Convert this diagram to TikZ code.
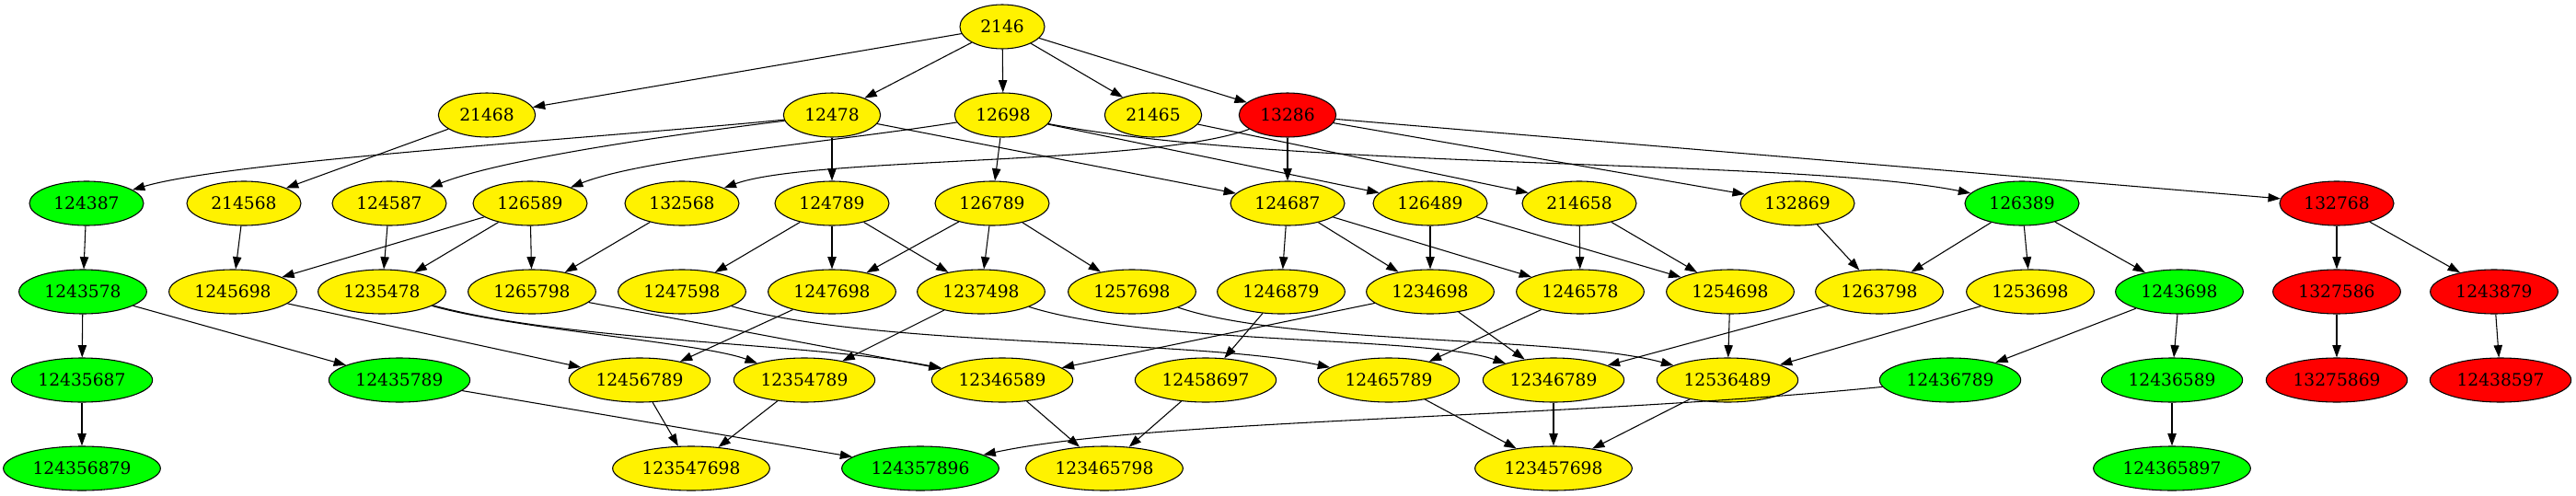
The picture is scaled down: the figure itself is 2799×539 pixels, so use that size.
\documentclass[tikz,border=0pt]{standalone}
\usepackage{fontspec}
\setmainfont{DejaVu Serif}
\usetikzlibrary{shapes.geometric,arrows.meta}
\begin{document}
\begin{tikzpicture}[x=0.75pt,y=-0.75pt,
  nd/.style={ellipse,draw=black,line width=0.8pt,minimum height=36pt,inner sep=0pt,font=\fontsize{14pt}{16pt}\selectfont},
  Y/.style={nd,fill=yellow},
  G/.style={nd,fill={rgb,255:red,0;green,255;blue,0}},
  R/.style={nd,fill=red},
  w4/.style={minimum width=69pt},
  w5/.style={minimum width=79pt},
  w6/.style={minimum width=93pt},
  w7/.style={minimum width=104pt},
  w8/.style={minimum width=115pt},
  w9/.style={minimum width=128pt},
  e/.style={-{Triangle[length=10pt,width=7pt]},line width=0.8pt}]
\useasboundingbox (0,0) rectangle (2799,539);
% row 1
\node[Y,w4] (n2146) at (1089,29) {2146};
% row 2
\node[Y,w5] (n21468) at (529,125) {21468};
\node[Y,w5] (n12478) at (904,125) {12478};
\node[Y,w5] (n12698) at (1090,125) {12698};
\node[Y,w5] (n21465) at (1253,125) {21465};
\node[R,w5] (n13286) at (1399,125) {13286};
% row 3
\node[G,w6] (n124387) at (94,221) {124387};
\node[Y,w6] (n214568) at (265,221) {214568};
\node[Y,w6] (n124587) at (423,221) {124587};
\node[Y,w6] (n126589) at (576,221) {126589};
\node[Y,w6] (n132568) at (741,221) {132568};
\node[Y,w6] (n124789) at (904,221) {124789};
\node[Y,w6] (n126789) at (1078,221) {126789};
\node[Y,w6] (n124687) at (1399,221) {124687};
\node[Y,w6] (n126489) at (1554,221) {126489};
\node[Y,w6] (n214658) at (1716,221) {214658};
\node[Y,w6] (n132869) at (1953,221) {132869};
\node[G,w6] (n126389) at (2197,221) {126389};
\node[R,w6] (n132768) at (2539,221) {132768};
% row 4
\node[G,w7] (n1243578) at (90,317) {1243578};
\node[Y,w7] (n1245698) at (253,317) {1245698};
\node[Y,w7] (n1235478) at (415,317) {1235478};
\node[Y,w7] (n1265798) at (578,317) {1265798};
\node[Y,w7] (n1247598) at (741,317) {1247598};
\node[Y,w7] (n1247698) at (904,317) {1247698};
\node[Y,w7] (n1237498) at (1066,317) {1237498};
\node[Y,w7] (n1257698) at (1230,317) {1257698};
\node[Y,w7] (n1246879) at (1392,317) {1246879};
\node[Y,w7] (n1234698) at (1554,317) {1234698};
\node[Y,w7] (n1246578) at (1717,317) {1246578};
\node[Y,w7] (n1254698) at (1880,317) {1254698};
\node[Y,w7] (n1263798) at (2042,317) {1263798};
\node[Y,w7] (n1253698) at (2206,317) {1253698};
\node[G,w7] (n1243698) at (2368,317) {1243698};
\node[R,w7] (n1327586) at (2539,317) {1327586};
\node[R,w7] (n1243879) at (2710,317) {1243879};
% row 5
\node[G,w8] (n12435687) at (89,413) {12435687};
\node[G,w8] (n12435789) at (434,413) {12435789};
\node[Y,w8] (n12456789) at (695,413) {12456789};
\node[Y,w8] (n12354789) at (874,413) {12354789};
\node[Y,w8] (n12346589) at (1089,413) {12346589};
\node[Y,w8] (n12458697) at (1310,413) {12458697};
\node[Y,w8] (n12465789) at (1509,413) {12465789};
\node[Y,w8] (n12346789) at (1688,413) {12346789};
\node[Y,w8] (n12536489) at (1877,413) {12536489};
\node[G,w8] (n12436789) at (2119,413) {12436789};
\node[G,w8] (n12436589) at (2360,413) {12436589};
\node[R,w8] (n13275869) at (2539,413) {13275869};
\node[R,w8] (n12438597) at (2717,413) {12438597};
% row 6
\node[G,w9] (n124356879) at (89,509) {124356879};
\node[Y,w9] (n123547698) at (751,509) {123547698};
\node[G,w9] (n124357896) at (1000,509) {124357896};
\node[Y,w9] (n123465798) at (1200,509) {123465798};
\node[Y,w9] (n123457698) at (1688,509) {123457698};
\node[G,w9] (n124365897) at (2360,509) {124365897};
% edges row1-2
\draw[e] (n2146) -- (n21468);
\draw[e] (n2146) -- (n12478);
\draw[e] (n2146) -- (n12698);
\draw[e] (n2146) -- (n21465);
\draw[e] (n2146) -- (n13286);
% edges row2-3
\draw[e] (n21468) -- (n214568);
\draw[e] (n12478) .. controls (650,150) and (250,175) .. (n124387);
\draw[e] (n12478) .. controls (700,150) and (540,175) .. (n124587);
\draw[e] (n12478) -- (n124789);
\draw[e] (n12478) -- (n124687);
\draw[e] (n12698) .. controls (900,155) and (700,172) .. (n126589);
\draw[e] (n12698) -- (n126789);
\draw[e] (n12698) -- (n126489);
\draw[e] (n12698) .. controls (1400,185) and (1950,172) .. (n126389);
\draw[e] (n21465) -- (n214658);
\draw[e] (n13286) .. controls (1250,180) and (880,170) .. (n132568);
\draw[e] (n13286) -- (n124687);
\draw[e] (n13286) -- (n132869);
\draw[e] (n13286) -- (n132768);
% edges row3-4
\draw[e] (n124387) -- (n1243578);
\draw[e] (n214568) -- (n1245698);
\draw[e] (n124587) -- (n1235478);
\draw[e] (n126589) -- (n1245698);
\draw[e] (n126589) -- (n1235478);
\draw[e] (n126589) -- (n1265798);
\draw[e] (n132568) -- (n1265798);
\draw[e] (n124789) -- (n1247598);
\draw[e] (n124789) -- (n1247698);
\draw[e] (n124789) -- (n1237498);
\draw[e] (n126789) -- (n1247698);
\draw[e] (n126789) -- (n1237498);
\draw[e] (n126789) -- (n1257698);
\draw[e] (n124687) -- (n1246879);
\draw[e] (n124687) -- (n1234698);
\draw[e] (n124687) -- (n1246578);
\draw[e] (n126489) -- (n1234698);
\draw[e] (n126489) -- (n1254698);
\draw[e] (n214658) -- (n1246578);
\draw[e] (n214658) -- (n1254698);
\draw[e] (n132869) -- (n1263798);
\draw[e] (n126389) -- (n1263798);
\draw[e] (n126389) -- (n1253698);
\draw[e] (n126389) -- (n1243698);
\draw[e] (n132768) -- (n1327586);
\draw[e] (n132768) -- (n1243879);
% edges row4-5
\draw[e] (n1243578) -- (n12435687);
\draw[e] (n1243578) -- (n12435789);
\draw[e] (n1245698) -- (n12456789);
\draw[e] (n1235478) .. controls (560,358) and (760,372) .. (n12354789);
\draw[e] (n1235478) .. controls (620,372) and (880,372) .. (n12346589);
\draw[e] (n1265798) -- (n12346589);
\draw[e] (n1247598) .. controls (950,378) and (1300,368) .. (n12465789);
\draw[e] (n1247698) -- (n12456789);
\draw[e] (n1237498) -- (n12354789);
\draw[e] (n1237498) .. controls (1250,375) and (1550,365) .. (n12346789);
\draw[e] (n1257698) .. controls (1400,375) and (1700,365) .. (n12536489);
\draw[e] (n1246879) -- (n12458697);
\draw[e] (n1234698) -- (n12346589);
\draw[e] (n1234698) -- (n12346789);
\draw[e] (n1246578) -- (n12465789);
\draw[e] (n1254698) -- (n12536489);
\draw[e] (n1263798) -- (n12346789);
\draw[e] (n1253698) -- (n12536489);
\draw[e] (n1243698) -- (n12436789);
\draw[e] (n1243698) -- (n12436589);
\draw[e] (n1327586) -- (n13275869);
\draw[e] (n1243879) -- (n12438597);
% edges row5-6
\draw[e] (n12435687) -- (n124356879);
\draw[e] (n12435789) -- (n124357896);
\draw[e] (n12456789) -- (n123547698);
\draw[e] (n12354789) -- (n123547698);
\draw[e] (n12346589) -- (n123465798);
\draw[e] (n12458697) -- (n123465798);
\draw[e] (n12465789) -- (n123457698);
\draw[e] (n12346789) -- (n123457698);
\draw[e] (n12536489) -- (n123457698);
\draw[e] (n12436789) .. controls (1700,455) and (1250,455) .. (n124357896);
\draw[e] (n12436589) -- (n124365897);
\end{tikzpicture}
\end{document}
